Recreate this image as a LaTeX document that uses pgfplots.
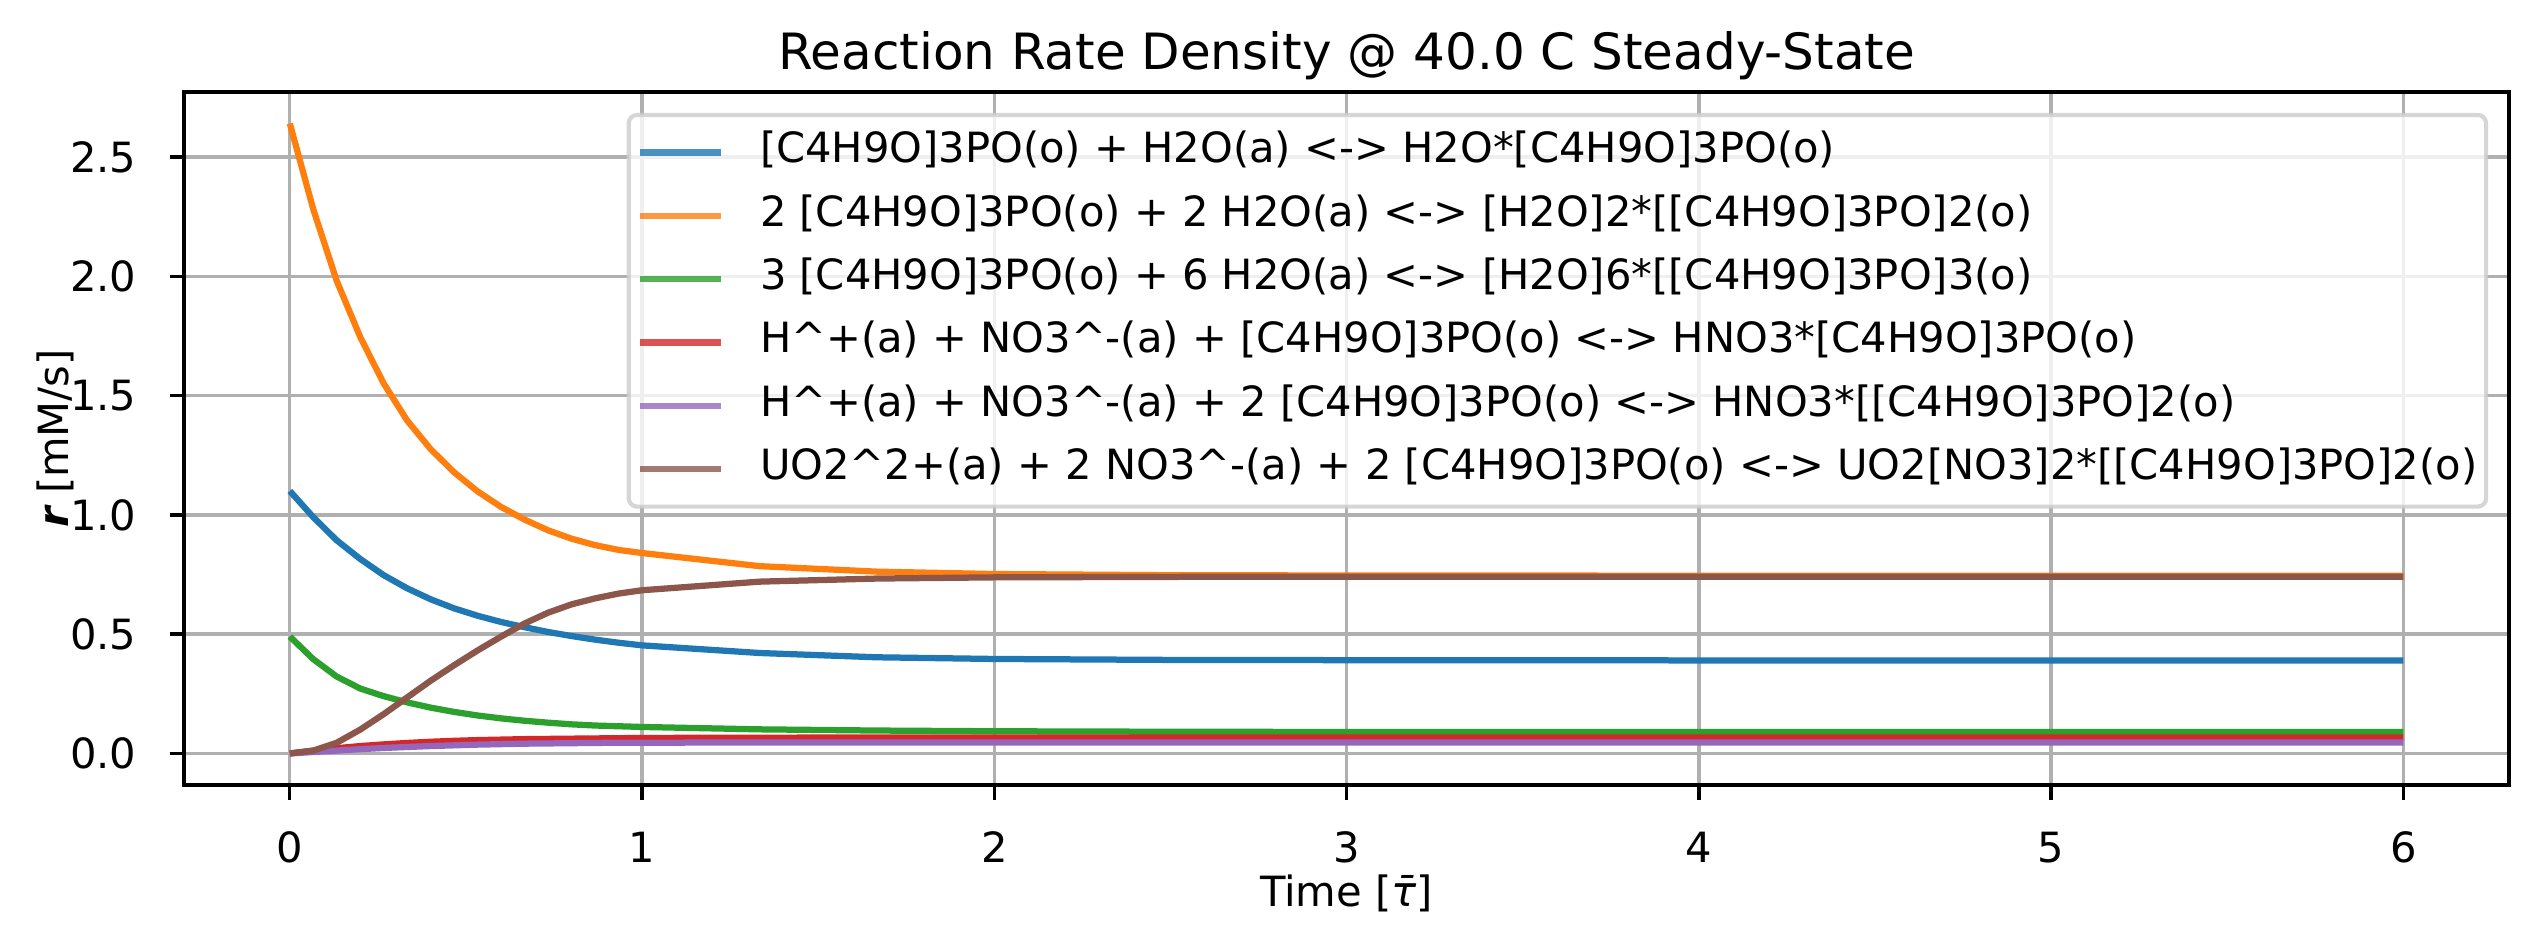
\documentclass[border=0pt]{standalone}
\usepackage{fontspec}
\setmainfont{DejaVu Sans}
\usepackage{pgfplots}
\usepackage{pgfplotstable}
\pgfplotsset{compat=1.18}

\definecolor{cblue}{HTML}{1F77B4}
\definecolor{corange}{HTML}{FF7F0E}
\definecolor{cgreen}{HTML}{2CA02C}
\definecolor{cred}{HTML}{D62728}
\definecolor{cpurple}{HTML}{9467BD}
\definecolor{cbrown}{HTML}{8C564B}
\definecolor{gridgray}{HTML}{B0B0B0}
\definecolor{framegray}{HTML}{CCCCCC}

% reaction rate densities r [mM/s] versus dimensionless time
\pgfplotstableread{
t       ra     rb     rc     rd     re     rf
0.0000  1.100  2.640  0.490  0.000  0.000  0.000
0.0667  0.990  2.280  0.395  0.012  0.006  0.012
0.1333  0.893  1.980  0.322  0.022  0.012  0.045
0.2000  0.815  1.745  0.272  0.031  0.018  0.100
0.2667  0.747  1.550  0.240  0.038  0.023  0.165
0.3333  0.692  1.395  0.214  0.044  0.027  0.235
0.4000  0.646  1.275  0.192  0.049  0.031  0.305
0.4667  0.608  1.178  0.174  0.053  0.034  0.370
0.5333  0.577  1.098  0.159  0.056  0.037  0.432
0.6000  0.551  1.033  0.147  0.058  0.039  0.490
0.6667  0.529  0.980  0.137  0.060  0.041  0.545
0.7333  0.509  0.935  0.129  0.061  0.042  0.590
0.8000  0.492  0.900  0.122  0.062  0.043  0.625
0.8667  0.477  0.873  0.117  0.063  0.044  0.650
0.9333  0.464  0.853  0.114  0.064  0.045  0.670
1.0000  0.453  0.840  0.111  0.065  0.045  0.684
1.3333  0.421  0.785  0.101  0.066  0.046  0.720
1.6667  0.403  0.762  0.096  0.067  0.046  0.733
2.0000  0.396  0.752  0.093  0.067  0.046  0.738
2.5000  0.392  0.747  0.091  0.067  0.046  0.740
3.0000  0.391  0.746  0.090  0.067  0.046  0.741
4.0000  0.390  0.745  0.090  0.067  0.046  0.741
5.0000  0.390  0.745  0.090  0.067  0.046  0.741
6.0000  0.390  0.745  0.090  0.067  0.046  0.741
}\ratetable

\begin{document}
\begin{tikzpicture}
\path[use as bounding box] (-44.2pt,-38.4pt) rectangle (565.2pt,188.4pt);
\begin{axis}[
  at={(0pt,0pt)}, anchor=south west,
  scale only axis, width=558pt, height=166.3pt,
  xmin=-0.3, xmax=6.3, ymin=-0.132, ymax=2.772,
  xtick={0,1,2,3,4,5,6},
  ytick={0,0.5,1,1.5,2,2.5},
  /pgf/number format/assume math mode=true,
  yticklabel={\pgfmathprintnumber[fixed,fixed zerofill,precision=1]{\tick}},
  xticklabel={\pgfmathprintnumber[fixed,precision=0]{\tick}},
  xtick pos=bottom, ytick pos=left,
  tick align=outside, major tick length=3.5pt,
  every tick/.style={black, line width=0.8pt},
  axis line style={black, line width=0.8pt},
  grid=major, grid style={gridgray, line width=0.8pt},
  xticklabel style={anchor=base, inner sep=0pt, yshift=-15.1pt, font=\fontsize{10}{12}\selectfont},
  yticklabel style={anchor=east, inner sep=0pt, xshift=-7.75pt, font=\fontsize{10}{12}\selectfont},
  title={Reaction Rate Density @ 40.0 C Steady-State},
  every axis title/.style={at={(axis description cs:0.5,1)}, anchor=base, yshift=5.5pt, inner sep=0pt, font=\fontsize{12}{14}\selectfont},
  xlabel={Time [{\itshape τ̄}]},
  xlabel style={at={(axis description cs:0.5,-0.1756)}, anchor=base, inner sep=0pt, font=\fontsize{10}{12}\selectfont},
  ylabel={{\bfseries\itshape r} [mM/s]},
  ylabel style={at={(axis description cs:-0.0498,0.5)}, anchor=base, inner sep=0pt, font=\fontsize{10}{12}\selectfont},
  legend cell align=left,
  legend image code/.code={\draw[#1] (0pt,0pt) -- (19.5pt,0pt); \path (28pt,0pt);},
  legend style={
    at={(rel axis cs:1,1)}, anchor=north east, xshift=-5pt, yshift=-5pt,
    draw=framegray, line width=1pt, fill=white, fill opacity=0.8, draw opacity=0.8, text opacity=1,
    rounded corners=2pt, inner xsep=2pt, inner ysep=4pt, row sep=5.2pt,
    font=\fontsize{10}{12}\selectfont,
    nodes={inner sep=0pt, text height=7.5pt, text depth=2.5pt},
  },
  every axis plot/.append style={line width=1.5pt},
]
\addplot[cblue] table[x=t, y=ra] {\ratetable};
\addlegendentry{[C4H9O]3PO(o) + H2O(a) <-> H2O*[C4H9O]3PO(o)}
\addplot[corange] table[x=t, y=rb] {\ratetable};
\addlegendentry{2 [C4H9O]3PO(o) + 2 H2O(a) <-> [H2O]2*[[C4H9O]3PO]2(o)}
\addplot[cgreen] table[x=t, y=rc] {\ratetable};
\addlegendentry{3 [C4H9O]3PO(o) + 6 H2O(a) <-> [H2O]6*[[C4H9O]3PO]3(o)}
\addplot[cred] table[x=t, y=rd] {\ratetable};
\addlegendentry{H\textasciicircum+(a) + NO3\textasciicircum-(a) + [C4H9O]3PO(o) <-> HNO3*[C4H9O]3PO(o)}
\addplot[cpurple] table[x=t, y=re] {\ratetable};
\addlegendentry{H\textasciicircum+(a) + NO3\textasciicircum-(a) + 2 [C4H9O]3PO(o) <-> HNO3*[[C4H9O]3PO]2(o)}
\addplot[cbrown] table[x=t, y=rf] {\ratetable};
\addlegendentry{UO2\textasciicircum2+(a) + 2 NO3\textasciicircum-(a) + 2 [C4H9O]3PO(o) <-> UO2[NO3]2*[[C4H9O]3PO]2(o)}
\end{axis}
\end{tikzpicture}
\end{document}
